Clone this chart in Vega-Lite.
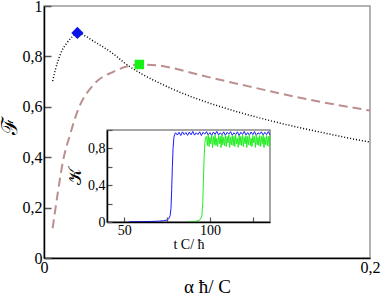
{
  "$schema": "https://vega.github.io/schema/vega-lite/v6.json",
  "width": 326,
  "height": 252,
  "autosize": "none",
  "padding": {"left": 44, "top": 6, "right": 12, "bottom": 36},
  "config": {
    "font": "Liberation Serif",
    "view": {"stroke": "#999", "strokeWidth": 1.5},
    "axis": {"domainColor": "black", "tickColor": "#555", "labelColor": "black", "titleColor": "black", "grid": false, "labelFont": "Liberation Serif", "titleFont": "Liberation Serif", "titleFontWeight": "normal"}
  },
  "datasets": {
    "main": [
      {"x": 0.0053, "y": 0.702, "s": "dot"},
      {"x": 0.007, "y": 0.748, "s": "dot"},
      {"x": 0.0088, "y": 0.786, "s": "dot"},
      {"x": 0.011, "y": 0.823, "s": "dot"},
      {"x": 0.0139, "y": 0.852, "s": "dot"},
      {"x": 0.017, "y": 0.876, "s": "dot"},
      {"x": 0.0204, "y": 0.892, "s": "dot"},
      {"x": 0.025, "y": 0.882, "s": "dot"},
      {"x": 0.03, "y": 0.862, "s": "dot"},
      {"x": 0.0344, "y": 0.845, "s": "dot"},
      {"x": 0.0425, "y": 0.81, "s": "dot"},
      {"x": 0.0507, "y": 0.768, "s": "dot"},
      {"x": 0.06, "y": 0.73, "s": "dot"},
      {"x": 0.07, "y": 0.697, "s": "dot"},
      {"x": 0.08, "y": 0.667, "s": "dot"},
      {"x": 0.09, "y": 0.641, "s": "dot"},
      {"x": 0.1, "y": 0.618, "s": "dot"},
      {"x": 0.11, "y": 0.597, "s": "dot"},
      {"x": 0.1264, "y": 0.566, "s": "dot"},
      {"x": 0.14, "y": 0.543, "s": "dot"},
      {"x": 0.157, "y": 0.517, "s": "dot"},
      {"x": 0.175, "y": 0.492, "s": "dot"},
      {"x": 0.1939, "y": 0.467, "s": "dot"},
      {"x": 0.2, "y": 0.46, "s": "dot"},
      {"x": 0.0053, "y": 0.118, "s": "dash"},
      {"x": 0.0085, "y": 0.26, "s": "dash"},
      {"x": 0.0118, "y": 0.389, "s": "dash"},
      {"x": 0.016, "y": 0.49, "s": "dash"},
      {"x": 0.021, "y": 0.59, "s": "dash"},
      {"x": 0.0303, "y": 0.687, "s": "dash"},
      {"x": 0.0425, "y": 0.739, "s": "dash"},
      {"x": 0.0585, "y": 0.768, "s": "dash"},
      {"x": 0.07, "y": 0.764, "s": "dash"},
      {"x": 0.08, "y": 0.752, "s": "dash"},
      {"x": 0.0957, "y": 0.726, "s": "dash"},
      {"x": 0.1264, "y": 0.68, "s": "dash"},
      {"x": 0.16, "y": 0.632, "s": "dash"},
      {"x": 0.2, "y": 0.585, "s": "dash"}
    ],
    "peaks": [
      {"x": 0.0205, "y": 0.893, "s": "diamond"},
      {"x": 0.0585, "y": 0.768, "s": "square"}
    ],
    "frame": [{"t": 40, "t2": 135, "k": 0, "k2": 1}],
    "inset": [
      {"t": 53, "k": 0.003, "s": "b"}, {"t": 60, "k": 0.004, "s": "b"}, {"t": 66, "k": 0.006, "s": "b"}, {"t": 70, "k": 0.009, "s": "b"},
      {"t": 73, "k": 0.014, "s": "b"}, {"t": 75, "k": 0.022, "s": "b"}, {"t": 76, "k": 0.035, "s": "b"}, {"t": 76.8, "k": 0.07, "s": "b"},
      {"t": 77.3, "k": 0.15, "s": "b"}, {"t": 77.7, "k": 0.35, "s": "b"}, {"t": 78.1, "k": 0.6, "s": "b"}, {"t": 78.5, "k": 0.8, "s": "b"},
      {"t": 79, "k": 0.92, "s": "b"}, {"t": 79.5, "k": 0.955, "s": "b"},
      {"t": 80, "k": 0.97, "s": "b"}, {"t": 81, "k": 0.945, "s": "b"}, {"t": 82, "k": 0.975, "s": "b"}, {"t": 83, "k": 0.94, "s": "b"},
      {"t": 84, "k": 0.98, "s": "b"}, {"t": 85, "k": 0.95, "s": "b"}, {"t": 86, "k": 0.972, "s": "b"}, {"t": 87, "k": 0.942, "s": "b"},
      {"t": 88, "k": 0.978, "s": "b"}, {"t": 89, "k": 0.948, "s": "b"}, {"t": 90, "k": 0.985, "s": "b"}, {"t": 91, "k": 0.944, "s": "b"},
      {"t": 92, "k": 0.97, "s": "b"}, {"t": 93, "k": 0.95, "s": "b"}, {"t": 94, "k": 0.98, "s": "b"}, {"t": 95, "k": 0.94, "s": "b"},
      {"t": 96, "k": 0.975, "s": "b"}, {"t": 97, "k": 0.955, "s": "b"}, {"t": 98, "k": 0.982, "s": "b"}, {"t": 99, "k": 0.946, "s": "b"},
      {"t": 100, "k": 0.972, "s": "b"}, {"t": 101, "k": 0.94, "s": "b"}, {"t": 102, "k": 0.978, "s": "b"}, {"t": 103, "k": 0.952, "s": "b"},
      {"t": 104, "k": 0.985, "s": "b"}, {"t": 105, "k": 0.945, "s": "b"}, {"t": 106, "k": 0.97, "s": "b"}, {"t": 107, "k": 0.948, "s": "b"},
      {"t": 108, "k": 0.98, "s": "b"}, {"t": 109, "k": 0.942, "s": "b"}, {"t": 110, "k": 0.975, "s": "b"}, {"t": 111, "k": 0.955, "s": "b"},
      {"t": 112, "k": 0.982, "s": "b"}, {"t": 113, "k": 0.944, "s": "b"}, {"t": 114, "k": 0.97, "s": "b"}, {"t": 115, "k": 0.95, "s": "b"},
      {"t": 116, "k": 0.98, "s": "b"}, {"t": 117, "k": 0.94, "s": "b"}, {"t": 118, "k": 0.975, "s": "b"}, {"t": 119, "k": 0.952, "s": "b"},
      {"t": 120, "k": 0.985, "s": "b"}, {"t": 121, "k": 0.946, "s": "b"}, {"t": 122, "k": 0.972, "s": "b"}, {"t": 123, "k": 0.944, "s": "b"},
      {"t": 124, "k": 0.978, "s": "b"}, {"t": 125, "k": 0.95, "s": "b"}, {"t": 126, "k": 0.983, "s": "b"}, {"t": 127, "k": 0.942, "s": "b"},
      {"t": 128, "k": 0.97, "s": "b"}, {"t": 129, "k": 0.955, "s": "b"}, {"t": 130, "k": 0.98, "s": "b"}, {"t": 131, "k": 0.945, "s": "b"},
      {"t": 132, "k": 0.975, "s": "b"}, {"t": 133, "k": 0.95, "s": "b"}, {"t": 134, "k": 0.982, "s": "b"}, {"t": 135, "k": 0.948, "s": "b"},
      {"t": 87.6, "k": 0.003, "s": "g"}, {"t": 91, "k": 0.006, "s": "g"}, {"t": 93, "k": 0.012, "s": "g"}, {"t": 94.5, "k": 0.03, "s": "g"},
      {"t": 95.3, "k": 0.07, "s": "g"}, {"t": 95.8, "k": 0.2, "s": "g"}, {"t": 96.2, "k": 0.45, "s": "g"}, {"t": 96.6, "k": 0.7, "s": "g"},
      {"t": 97, "k": 0.85, "s": "g"}, {"t": 97.4, "k": 0.92, "s": "g"},
      {"t": 98, "k": 0.93, "s": "g"}, {"t": 98.5, "k": 0.83, "s": "g"}, {"t": 99, "k": 0.95, "s": "g"}, {"t": 99.5, "k": 0.82, "s": "g"},
      {"t": 100, "k": 0.92, "s": "g"}, {"t": 100.5, "k": 0.85, "s": "g"}, {"t": 101, "k": 0.94, "s": "g"}, {"t": 101.5, "k": 0.81, "s": "g"},
      {"t": 102, "k": 0.93, "s": "g"}, {"t": 102.5, "k": 0.84, "s": "g"}, {"t": 103, "k": 0.95, "s": "g"}, {"t": 103.5, "k": 0.83, "s": "g"},
      {"t": 104, "k": 0.91, "s": "g"}, {"t": 104.5, "k": 0.82, "s": "g"}, {"t": 105, "k": 0.94, "s": "g"}, {"t": 105.5, "k": 0.85, "s": "g"},
      {"t": 106, "k": 0.93, "s": "g"}, {"t": 106.5, "k": 0.81, "s": "g"}, {"t": 107, "k": 0.95, "s": "g"}, {"t": 107.5, "k": 0.84, "s": "g"},
      {"t": 108, "k": 0.92, "s": "g"}, {"t": 108.5, "k": 0.83, "s": "g"}, {"t": 109, "k": 0.94, "s": "g"}, {"t": 109.5, "k": 0.82, "s": "g"},
      {"t": 110, "k": 0.93, "s": "g"}, {"t": 110.5, "k": 0.86, "s": "g"}, {"t": 111, "k": 0.95, "s": "g"}, {"t": 111.5, "k": 0.81, "s": "g"},
      {"t": 112, "k": 0.92, "s": "g"}, {"t": 112.5, "k": 0.84, "s": "g"}, {"t": 113, "k": 0.94, "s": "g"}, {"t": 113.5, "k": 0.83, "s": "g"},
      {"t": 114, "k": 0.93, "s": "g"}, {"t": 114.5, "k": 0.82, "s": "g"}, {"t": 115, "k": 0.95, "s": "g"}, {"t": 115.5, "k": 0.85, "s": "g"},
      {"t": 116, "k": 0.91, "s": "g"}, {"t": 116.5, "k": 0.81, "s": "g"}, {"t": 117, "k": 0.94, "s": "g"}, {"t": 117.5, "k": 0.84, "s": "g"},
      {"t": 118, "k": 0.93, "s": "g"}, {"t": 118.5, "k": 0.83, "s": "g"}, {"t": 119, "k": 0.95, "s": "g"}, {"t": 119.5, "k": 0.82, "s": "g"},
      {"t": 120, "k": 0.92, "s": "g"}, {"t": 120.5, "k": 0.85, "s": "g"}, {"t": 121, "k": 0.94, "s": "g"}, {"t": 121.5, "k": 0.81, "s": "g"},
      {"t": 122, "k": 0.93, "s": "g"}, {"t": 122.5, "k": 0.84, "s": "g"}, {"t": 123, "k": 0.95, "s": "g"}, {"t": 123.5, "k": 0.83, "s": "g"},
      {"t": 124, "k": 0.91, "s": "g"}, {"t": 124.5, "k": 0.82, "s": "g"}, {"t": 125, "k": 0.94, "s": "g"}, {"t": 125.5, "k": 0.86, "s": "g"},
      {"t": 126, "k": 0.93, "s": "g"}, {"t": 126.5, "k": 0.81, "s": "g"}, {"t": 127, "k": 0.95, "s": "g"}, {"t": 127.5, "k": 0.84, "s": "g"},
      {"t": 128, "k": 0.92, "s": "g"}, {"t": 128.5, "k": 0.83, "s": "g"}, {"t": 129, "k": 0.94, "s": "g"}, {"t": 129.5, "k": 0.82, "s": "g"},
      {"t": 130, "k": 0.93, "s": "g"}, {"t": 130.5, "k": 0.85, "s": "g"}, {"t": 131, "k": 0.95, "s": "g"}, {"t": 131.5, "k": 0.81, "s": "g"},
      {"t": 132, "k": 0.92, "s": "g"}, {"t": 132.5, "k": 0.84, "s": "g"}, {"t": 133, "k": 0.94, "s": "g"}, {"t": 133.5, "k": 0.83, "s": "g"},
      {"t": 134, "k": 0.93, "s": "g"}, {"t": 134.5, "k": 0.82, "s": "g"}, {"t": 135, "k": 0.94, "s": "g"}
    ]
  },
  "layer": [
    {
      "layer": [
        {
          "data": {"name": "main"},
          "transform": [{"filter": "datum.s === 'dot'"}],
          "mark": {"type": "line", "color": "black", "strokeWidth": 1.5, "strokeDash": [1, 2], "interpolate": "monotone", "clip": true},
          "encoding": {
            "x": {"field": "x", "type": "quantitative", "scale": {"domain": [0, 0.2], "nice": false, "zero": false},
              "axis": {"values": [0, 0.2], "ticks": false, "labelExpr": "replace(format(datum.value, '~g'), '.', ',')", "labelFontSize": 16, "labelPadding": 1, "labelFlush": false, "domainWidth": 1.5, "title": "α  ħ/ C", "titleFontSize": 19, "titleBaseline": "alphabetic", "titleY": 34, "zindex": 1}},
            "y": {"field": "y", "type": "quantitative", "scale": {"domain": [0, 1], "nice": false, "zero": false},
              "axis": {"values": [0, 0.1, 0.2, 0.3, 0.4, 0.5, 0.6, 0.7, 0.8, 0.9, 1], "labelExpr": "round(datum.value*10) % 2 == 1 ? '' : replace(format(datum.value, '~g'), '.', ',')", "tickSize": {"condition": {"test": "round(datum.value*10) % 2 == 1", "value": -4}, "value": -7}, "tickWidth": 1.5, "labelFontSize": 16, "labelPadding": 9, "labelFlush": false, "domainWidth": 1.5, "title": "ℱ", "titleFontSize": 22, "titleAngle": -90, "titleBaseline": "alphabetic", "titleX": -28, "titleY": 119, "zindex": 1}}
          }
        },
        {
          "data": {"name": "main"},
          "transform": [{"filter": "datum.s === 'dash'"}],
          "mark": {"type": "line", "color": "#bc8f8f", "strokeWidth": 2, "strokeDash": [9, 5], "interpolate": "monotone", "clip": true},
          "encoding": {
            "x": {"field": "x", "type": "quantitative"},
            "y": {"field": "y", "type": "quantitative"}
          }
        },
        {
          "data": {"name": "peaks"},
          "mark": {"type": "point", "filled": true, "opacity": 1},
          "encoding": {
            "x": {"field": "x", "type": "quantitative"},
            "y": {"field": "y", "type": "quantitative"},
            "shape": {"field": "s", "type": "nominal", "scale": {"domain": ["diamond", "square"], "range": ["diamond", "square"]}, "legend": null},
            "color": {"field": "s", "type": "nominal", "scale": {"domain": ["diamond", "square"], "range": ["#0a14e6", "#16f016"]}, "legend": null},
            "size": {"field": "s", "type": "nominal", "scale": {"domain": ["diamond", "square"], "range": [150, 90]}, "legend": null}
          }
        }
      ]
    },
    {
      "layer": [
        {
          "data": {"name": "frame"},
          "mark": {"type": "rect", "fill": "white", "stroke": "#888", "strokeWidth": 1.5},
          "encoding": {
            "x": {"field": "t", "type": "quantitative", "scale": {"domain": [40, 135], "range": [63, 226], "nice": false, "zero": false},
              "axis": {"orient": "bottom", "offset": -36, "values": [50, 75, 100, 125], "labelExpr": "datum.value == 50 || datum.value == 100 ? format(datum.value, 'd') : ''", "tickSize": -5, "tickWidth": 1.2, "labelFontSize": 14, "labelPadding": 6, "labelFlush": false, "domainWidth": 1.5, "title": "t C/ ħ", "titleFontSize": 14, "titlePadding": 0, "zindex": 2}},
            "x2": {"field": "t2"},
            "y": {"field": "k", "type": "quantitative", "scale": {"domain": [0, 1], "range": [216, 124], "nice": false, "zero": false},
              "axis": {"orient": "left", "offset": -63, "values": [0, 0.2, 0.4, 0.6, 0.8, 1], "labelExpr": "round(datum.value*10) % 4 == 0 ? replace(format(datum.value, '~g'), '.', ',') : ''", "tickSize": -5, "tickWidth": 1.2, "labelFontSize": 14, "labelPadding": 7, "labelFlush": false, "domainWidth": 1.5, "title": "𝒦", "titleFontSize": 18, "titlePadding": 3, "zindex": 2}},
            "y2": {"field": "k2"}
          }
        },
        {
          "data": {"name": "inset"},
          "transform": [{"filter": "datum.s === 'b'"}],
          "mark": {"type": "line", "color": "#1a1aff", "strokeWidth": 1},
          "encoding": {
            "x": {"field": "t", "type": "quantitative"},
            "y": {"field": "k", "type": "quantitative"}
          }
        },
        {
          "data": {"name": "inset"},
          "transform": [{"filter": "datum.s === 'g'"}],
          "mark": {"type": "line", "color": "#22ee22", "strokeWidth": 1},
          "encoding": {
            "x": {"field": "t", "type": "quantitative"},
            "y": {"field": "k", "type": "quantitative"}
          }
        }
      ]
    }
  ],
  "resolve": {"scale": {"x": "independent", "y": "independent"}}
}
